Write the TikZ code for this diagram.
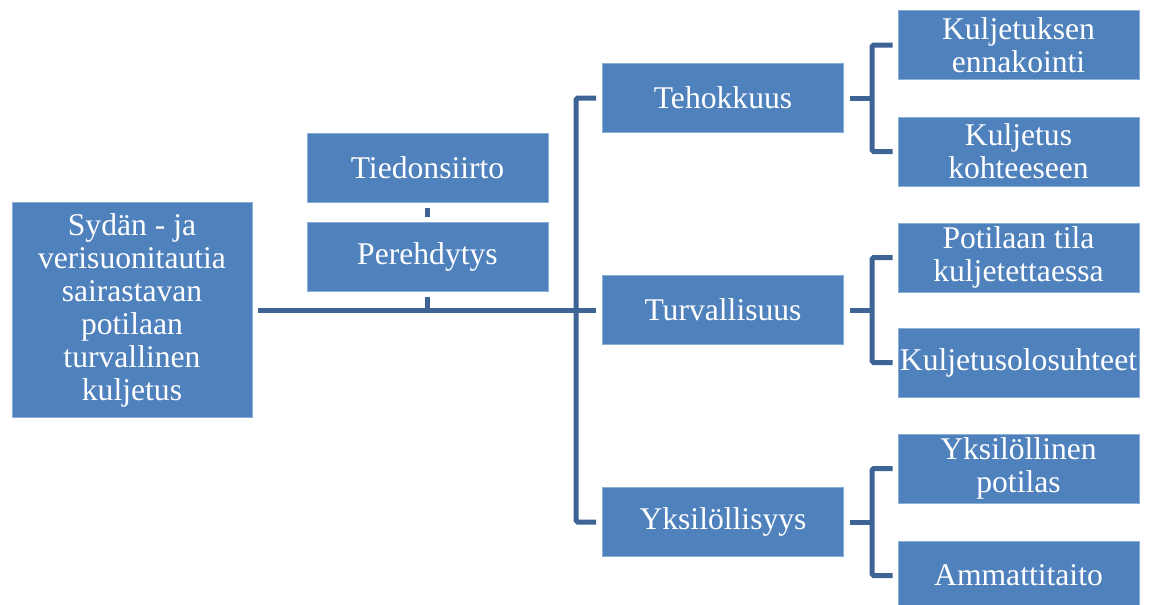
\documentclass[tikz,border=0pt]{standalone}
\usepackage{fontspec}
\setmainfont{Liberation Serif}
\definecolor{boxblue}{RGB}{79,129,189}
\definecolor{lineblue}{RGB}{62,100,150}
\definecolor{edgeblue}{RGB}{140,175,215}
\begin{document}
\begin{tikzpicture}[x=0.02cm,y=-0.02cm,
    box/.style={rectangle,fill=boxblue,draw=edgeblue,line width=0.4pt,text=white,align=center,
        minimum width=4.82cm,minimum height=1.38cm,inner sep=0pt,
        font=\fontsize{18}{18.8}\selectfont},
    conn/.style={draw=lineblue,line width=0.1cm}]
    \useasboundingbox (0,0) rectangle (1150,605);
    \node[box,minimum width=4.8cm,minimum height=4.3cm](root) at (132,310)
        {Syd\"an - ja\\verisuonitautia\\sairastavan\\potilaan\\turvallinen\\kuljetus};
    \node[box](tied) at (427.5,167.5) {Tiedonsiirto};
    \node[box](pere) at (427.5,257) {Perehdytys};
    \node[box](teho) at (723,98) {Tehokkuus};
    \node[box](turv) at (723,310) {Turvallisuus};
    \node[box](yksi) at (723,522) {Yksil\"ollisyys};
    \node[box](ken) at (1018.5,45) {Kuljetuksen\\ennakointi};
    \node[box](kko) at (1018.5,151.5) {Kuljetus\\kohteeseen};
    \node[box](pot) at (1018.5,257.5) {Potilaan tila\\kuljetettaessa};
    \node[box](kos) at (1018.5,362.5) {Kuljetusolosuhteet};
    \node[box](ypot) at (1018.5,468.5) {Yksil\"ollinen\\potilas};
    \node[box](amm) at (1018.5,575.5) {Ammattitaito};
    \coordinate (mb) at (576,310);
    \coordinate (tb) at (872,98);
    \coordinate (ub) at (872,310);
    \coordinate (yb) at (872,522);
    \draw[conn]([xshift=0.12cm]root.east)--([xshift=-0.12cm]turv.west);
    \draw[conn]([yshift=-0.12cm]tied.south)--([yshift=0.1cm]pere.north);
    \draw[conn]([yshift=-0.1cm]pere.south)--(pere.south|-mb);
    \draw[conn,rounded corners=1pt]([xshift=-0.12cm]teho.west)-|(mb)|-([xshift=-0.12cm]yksi.west);
    \draw[conn]([xshift=0.12cm]teho.east)--(tb);
    \draw[conn]([xshift=0.12cm]turv.east)--(ub);
    \draw[conn]([xshift=0.12cm]yksi.east)--(yb);
    \draw[conn,rounded corners=1pt]([xshift=-0.1cm]ken.west)-|(tb)|-([xshift=-0.1cm]kko.west);
    \draw[conn,rounded corners=1pt]([xshift=-0.1cm]pot.west)-|(ub)|-([xshift=-0.1cm]kos.west);
    \draw[conn,rounded corners=1pt]([xshift=-0.1cm]ypot.west)-|(yb)|-([xshift=-0.1cm]amm.west);
\end{tikzpicture}
\end{document}
